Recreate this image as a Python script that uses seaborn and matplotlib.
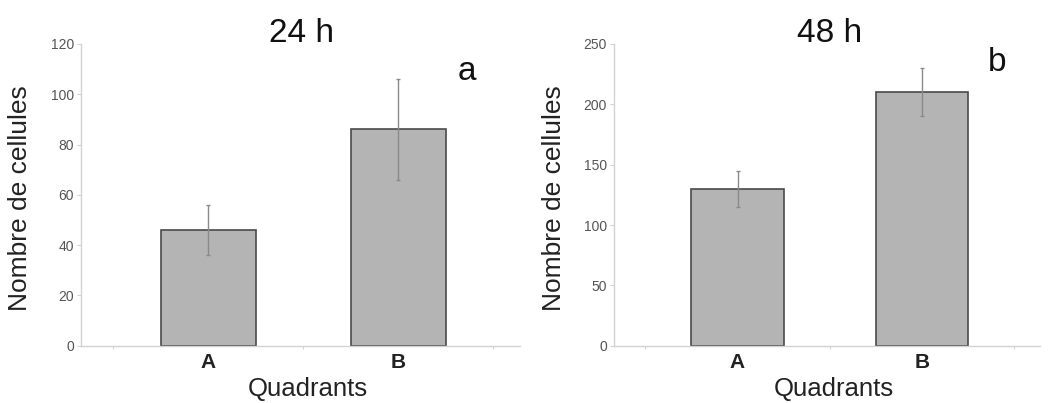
import pandas as pd
import seaborn as sns
import matplotlib.pyplot as plt

# Data
categories = ["A", "B"]
means_24h = [46, 86]
errors_24h = [10, 20]
means_48h = [130, 210]
errors_48h = [15, 20]
titles = ["24 h", "48 h"]
panel_letters = ["a", "b"]
y_limits = [120, 250]
y_ticks = [[0, 20, 40, 60, 80, 100, 120], [0, 50, 100, 150, 200, 250]]

sns.set_style("white")
plt.rcParams["font.family"] = ["Liberation Sans", "DejaVu Sans"]

fig = plt.figure(figsize=(10.49, 4.03), dpi=100)
ax1 = fig.add_axes([0.0772, 0.142, 0.4185, 0.749])
ax2 = fig.add_axes([0.5853, 0.142, 0.4061, 0.749])

panels = [
    (ax1, means_24h, errors_24h),
    (ax2, means_48h, errors_48h),
]

spine_grey = "#d2d2d2"

for i, (ax, means, errs) in enumerate(panels):
    df = pd.DataFrame({"Quadrants": categories, "cells": means})
    sns.barplot(data=df, x="Quadrants", y="cells", ax=ax, color="#b4b4b4",
                saturation=1, width=0.5, edgecolor="#4a4a4a", linewidth=1.2,
                errorbar=None)
    ax.errorbar(range(len(categories)), means, yerr=errs, fmt="none",
                ecolor="#8a8a8a", elinewidth=1, capsize=1.5, capthick=1)

    ax.set_xlim(-0.67, 1.64)
    ax.set_ylim(0, y_limits[i])
    ax.set_yticks(y_ticks[i])
    ax.set_xticks([-0.5, 0.5, 1.5], minor=True)

    sns.despine(ax=ax)
    for side in ["left", "bottom"]:
        ax.spines[side].set_color(spine_grey)
        ax.spines[side].set_linewidth(1)

    ax.tick_params(axis="y", which="major", labelsize=10, labelcolor="#555555",
                   length=3, width=0.8, color=spine_grey, pad=2, left=True)
    ax.tick_params(axis="x", which="major", labelsize=15, labelcolor="#222222",
                   length=0, pad=5)
    ax.tick_params(axis="x", which="minor", length=2, width=0.8,
                   color=spine_grey, bottom=True)
    for lbl in ax.get_xticklabels():
        lbl.set_fontweight("bold")

    ax.set_xlabel("Quadrants", fontsize=18.5, color="#222222")
    ax.set_ylabel("Nombre de cellules", fontsize=19, color="#222222")
    ax.xaxis.set_label_coords(0.517, -0.105)
    ax.yaxis.set_label_coords(-0.112, 0.49)

# titles and panel letters
ax1.text(0.503, 1.007, titles[0], transform=ax1.transAxes, ha="center",
         va="baseline", fontsize=24, color="#111111")
ax2.text(0.507, 1.007, titles[1], transform=ax2.transAxes, ha="center",
         va="baseline", fontsize=24, color="#111111")
ax1.text(0.88, 0.881, panel_letters[0], transform=ax1.transAxes, ha="center",
         va="baseline", fontsize=24, color="#111111")
ax2.text(0.899, 0.91, panel_letters[1], transform=ax2.transAxes, ha="center",
         va="baseline", fontsize=24, color="#111111")

fig.savefig("out.png", dpi=100)
